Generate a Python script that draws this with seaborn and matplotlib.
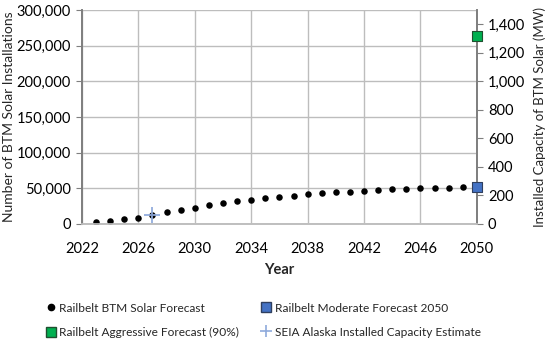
import matplotlib
matplotlib.use("Agg")
import matplotlib.pyplot as plt
import seaborn as sns
import pandas as pd
from matplotlib.ticker import FuncFormatter, MultipleLocator, FixedLocator
from matplotlib.lines import Line2D

# Forecast of BTM solar installations (count)
years = list(range(2023, 2050))
installations = [2800, 4200, 6500, 8800, 12600, 16400, 19600, 22800, 26200, 29400,
                 32500, 34300, 36000, 37800, 39400, 41400, 43000, 44300, 45000, 45600,
                 47500, 48600, 49400, 50000, 50500, 51000, 51500]

# Capacity points (MW) on the right axis
moderate_year = [2050]
moderate_mw = [262]
aggressive_year = [2050]
aggressive_mw = [1318]
seia_year = [2027]
seia_mw = [63]

year_ticks = list(range(2022, 2051, 4))

df = pd.DataFrame({"year": years, "installations": installations})

grid_c = "#bdbdbd"
sns.set_theme(style="white")
plt.rcParams["font.family"] = ["Lato", "DejaVu Sans"]

fig = plt.figure(figsize=(5.5, 3.43), dpi=100)
ax = fig.add_axes([0.149, 0.347, 0.718, 0.624])
ax2 = ax.twinx()

sns.scatterplot(data=df, x="year", y="installations", ax=ax, color="black",
                s=22, edgecolor="black", linewidth=0, zorder=3, legend=False)
sns.scatterplot(x=seia_year, y=seia_mw, ax=ax2, marker="+", color="#8faadc",
                s=120, linewidth=1.4, zorder=4, alpha=0.9, legend=False)
sns.scatterplot(x=moderate_year, y=moderate_mw, ax=ax2, marker="s", color="#4472c4",
                edgecolor="#2f3f5f", linewidth=0.8, s=45, zorder=5, clip_on=False, legend=False)
sns.scatterplot(x=aggressive_year, y=aggressive_mw, ax=ax2, marker="s", color="#00b050",
                edgecolor="#1f4f2f", linewidth=0.8, s=45, zorder=5, clip_on=False, legend=False)

ax.set_xlim(2022, 2050)
ax.set_ylim(0, 300000)
ax.xaxis.set_major_locator(FixedLocator(year_ticks))
ax.yaxis.set_major_locator(MultipleLocator(50000))
ax.yaxis.set_major_formatter(FuncFormatter(lambda v, p: f"{int(v):,}"))

ax2.set_ylim(0, 1500)
ax2.yaxis.set_major_locator(MultipleLocator(200))
ax2.yaxis.set_major_formatter(FuncFormatter(lambda v, p: f"{int(v):,}"))

for a in (ax, ax2):
    a.spines["top"].set_visible(False)
    a.spines["left"].set_color("#7f7f7f")
    a.spines["right"].set_color("#7f7f7f")
    a.spines["bottom"].set_color("#bfbfbf")
    a.tick_params(labelsize=10.5, labelcolor="#000000")

ax.tick_params(axis="x", length=0, pad=13)
ax.tick_params(axis="y", length=4, width=0.8, color="#7f7f7f", direction="out", pad=4)
ax2.tick_params(axis="y", length=4, width=0.8, color="#7f7f7f", direction="out", pad=4)

ax.set_xlabel("Year", fontsize=10.5, fontweight="bold", labelpad=5)
ax.set_ylabel("Number of BTM Solar Installations", fontsize=10, labelpad=1)
ax2.set_ylabel("Installed Capacity of BTM Solar (MW)", fontsize=9.5, labelpad=6)

dot_h = Line2D([], [], marker="o", linestyle="", color="black", markersize=4.5)
agg_h = Line2D([], [], marker="s", linestyle="", color="#00b050", markeredgecolor="#1f4f2f", markersize=7)
mod_h = Line2D([], [], marker="s", linestyle="", color="#4472c4", markeredgecolor="#2f3f5f", markersize=7)
seia_h = Line2D([], [], marker="+", linestyle="", color="#8faadc", markersize=8, markeredgewidth=1.2)

leg_kw = dict(loc="upper left", frameon=False, fontsize=8.6, handletextpad=0.25,
              handlelength=1.0, labelspacing=1.1, borderpad=0, borderaxespad=0)
fig.legend([dot_h, agg_h], ["Railbelt BTM Solar Forecast", "Railbelt Aggressive Forecast (90%)"],
           bbox_to_anchor=(0.081, 0.118), **leg_kw)
fig.legend([mod_h, seia_h], ["Railbelt Moderate Forecast 2050", "SEIA Alaska Installed Capacity Estimate"],
           bbox_to_anchor=(0.472, 0.118), **leg_kw)

# gridlines last so nothing above resets them
ax.set_axisbelow(True)
ax.xaxis.grid(True, which="major", color=grid_c, linewidth=1.0, linestyle="-")
ax.yaxis.grid(True, which="major", color=grid_c, linewidth=1.0, linestyle="-")

fig.savefig("out.png", dpi=100)
